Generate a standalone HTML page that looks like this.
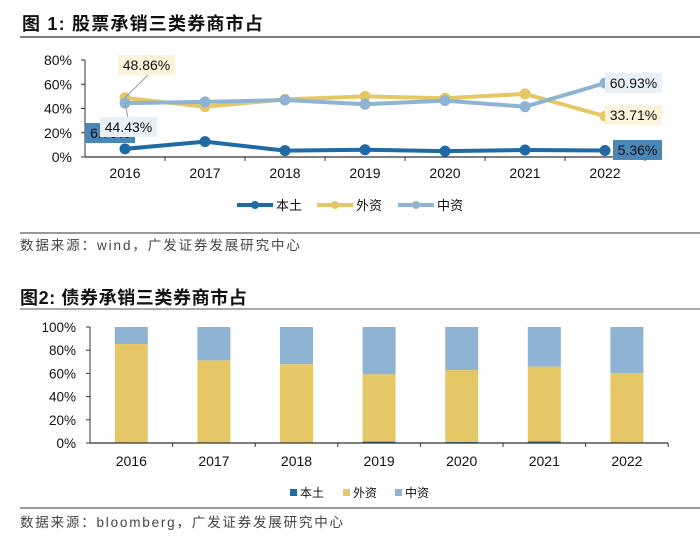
<!DOCTYPE html>
<html><head><meta charset="utf-8"><style>
body{margin:0;background:#fff;width:700px;height:545px;overflow:hidden}
svg text{font-family:"Liberation Sans","Noto Sans CJK SC",sans-serif}
</style></head><body>
<svg id="s" width="700" height="545" xmlns="http://www.w3.org/2000/svg">
<text x="22" y="30" font-size="18" font-weight="bold" fill="#111" letter-spacing="1.2">图 1:  股票承销三类券商市占</text>
<line x1="20" y1="37" x2="700" y2="37" stroke="#333" stroke-width="1.2"/>
<g id="c1"></g>
<line x1="20" y1="233" x2="700" y2="233" stroke="#333" stroke-width="1"/>
<text x="20" y="250" font-size="13.5" fill="#444" letter-spacing="1.9">数据来源：wind，广发证券发展研究中心</text>
<text x="20" y="304" font-size="18" font-weight="bold" fill="#111" letter-spacing="0.6">图2:  债券承销三类券商市占</text>
<line x1="20" y1="309" x2="700" y2="309" stroke="#555" stroke-width="1"/>
<g id="c2"></g>
<line x1="20" y1="508" x2="700" y2="508" stroke="#333" stroke-width="1"/>
<text x="20" y="527" font-size="13.5" fill="#444" letter-spacing="1.8">数据来源：bloomberg，广发证券发展研究中心</text>
</svg>
<script>
const years=["2016","2017","2018","2019","2020","2021","2022"];
const domestic1=[6.7,12.7,5.3,6.0,4.8,5.8,5.36];
const foreign1=[48.86,41.5,47.5,50.0,48.5,52.0,33.71];
const chinese1=[44.43,45.5,47.0,43.5,46.5,41.5,60.93];
const ticks1=["0%","20%","40%","60%","80%"];
const domestic2=[0.3,0.2,0.3,1.2,0.8,1.3,0.3];
const foreign2=[85,71,67.5,58,62,64.5,60];
const ticks2=["0%","20%","40%","60%","80%","100%"];
const C={d:"#1f6aa5",f:"#e5c765",c:"#8fb4d3"};
const NS="http://www.w3.org/2000/svg";
function mk(p,t,a,txt){const e=document.createElementNS(NS,t);for(const k in a)e.setAttribute(k,a[k]);if(txt!=null)e.textContent=txt;p.appendChild(e);return e;}
// chart 1
const g1=document.getElementById('c1');
const x1=i=>125+i*80, y1=v=>157-v*(97/80);
ticks1.forEach((t,i)=>{const e=mk(g1,'text',{x:72,y:y1(i*20)+5,'font-size':14,'text-anchor':'end',fill:'#111'},t);


mk(g1,'line',{x1:81,x2:85,y1:y1(i*20),y2:y1(i*20),stroke:'#333'});});
mk(g1,'line',{x1:85,x2:85,y1:60,y2:157,stroke:'#333'});
mk(g1,'line',{x1:85,x2:645,y1:157,y2:157,stroke:'#333','stroke-width':1.2});
years.forEach((y,i)=>{mk(g1,'line',{x1:85+i*80+80,x2:85+i*80+80,y1:157,y2:161,stroke:'#333'});
const e=mk(g1,'text',{x:x1(i),y:178,'font-size':14,'text-anchor':'middle',fill:'#111'},y);

});
function series(arr,col,name){const pts=arr.map((v,i)=>x1(i)+','+y1(v)).join(' ');
const l=mk(g1,'polyline',{points:pts,fill:'none',stroke:col,'stroke-width':4});


arr.forEach((v,i)=>{const c=mk(g1,'circle',{cx:x1(i),cy:y1(v),r:5.5,fill:col});

});}
function lbl(x,y,w,bg,txt,col,name){const g=mk(g1,'g',{});


mk(g,'rect',{x:x,y:y,width:w,height:20,fill:bg});mk(g,'text',{x:x+w/2,y:y+15,'font-size':14,'text-anchor':'middle',fill:col},txt);}
lbl(85,123,50,'#4a86b8',domestic1[0].toFixed(2)+'%','#111','domestic-2016-label');
series(foreign1,C.f,'foreign');
series(chinese1,C.c,'chinese');
series(domestic1,C.d,'domestic');
mk(g1,'line',{x1:125,y1:y1(foreign1[0]),x2:148,y2:75,stroke:'#999'});
mk(g1,'line',{x1:125,y1:y1(chinese1[0]),x2:128,y2:118,stroke:'#999'});
lbl(118,55,57,'#fbf3dc',foreign1[0].toFixed(2)+'%','#111','foreign-2016-label');
lbl(100,117,57,'#e8f0f8',chinese1[0].toFixed(2)+'%','#111','chinese-2016-label');
lbl(605,73,57,'#e8f0f8',chinese1[6].toFixed(2)+'%','#111','chinese-2022-label');
lbl(605,105,57,'#fbf3dc',foreign1[6].toFixed(2)+'%','#111','foreign-2022-label');
lbl(613,140,49,'#4a86b8',domestic1[6].toFixed(2)+'%','#111','domestic-2022-label');
[["本土",C.d,237],["外资",C.f,317],["中资",C.c,398]].forEach(([t,c,x])=>{const g=mk(g1,'g',{});


mk(g,'line',{x1:x,x2:x+36,y1:205,y2:205,stroke:c,'stroke-width':4});mk(g,'circle',{cx:x+18,cy:205,r:4,fill:c});
mk(g,'text',{x:x+39,y:210,'font-size':13,fill:'#111'},t);});
// chart 2
const g2=document.getElementById('c2');
const x2=i=>90+82.6*i+41.3, y2=v=>443-v*1.16;
ticks2.forEach((t,i)=>{const e=mk(g2,'text',{x:76,y:y2(i*20)+5,'font-size':13.5,'text-anchor':'end',fill:'#111'},t);


mk(g2,'line',{x1:86,x2:90,y1:y2(i*20),y2:y2(i*20),stroke:'#333'});});
mk(g2,'line',{x1:90,x2:90,y1:y2(100),y2:443,stroke:'#333'});
years.forEach((y,i)=>{const bx=x2(i)-16.5;
const rc=mk(g2,'rect',{x:bx,y:y2(100),width:33,height:y2(domestic2[i]+foreign2[i])-y2(100),fill:C.c});


const rf=mk(g2,'rect',{x:bx,y:y2(domestic2[i]+foreign2[i]),width:33,height:y2(domestic2[i])-y2(domestic2[i]+foreign2[i]),fill:C.f});


const rd=mk(g2,'rect',{x:bx,y:y2(domestic2[i]),width:33,height:443-y2(domestic2[i]),fill:C.d});


mk(g2,'line',{x1:90+82.6*(i+1),x2:90+82.6*(i+1),y1:443,y2:447,stroke:'#333'});
const e=mk(g2,'text',{x:x2(i),y:466,'font-size':14,'text-anchor':'middle',fill:'#111'},y);

});
mk(g2,'line',{x1:90,x2:668,y1:443,y2:443,stroke:'#333','stroke-width':1.2});
[["本土",C.d,290],["外资",C.f,343],["中资",C.c,395]].forEach(([t,c,x])=>{const g=mk(g2,'g',{});


mk(g,'rect',{x:x,y:489,width:7,height:7,fill:c});mk(g,'text',{x:x+10,y:497,'font-size':12,fill:'#111'},t);});
</script>
</body></html>
